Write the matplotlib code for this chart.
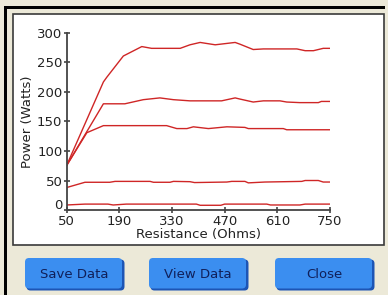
import matplotlib
matplotlib.use("Agg")
import matplotlib.pyplot as plt
import matplotlib.transforms as mtransforms
from matplotlib.patches import Rectangle, FancyBboxPatch

# readings of the five power curves (ohms -> watts)
r1 = [50, 148, 157, 201, 250, 276, 352, 378, 405, 445, 498, 511, 546, 573, 662, 684, 706, 732, 750]
p1 = [75, 217, 225, 261, 277, 274, 274, 280, 284, 280, 284, 281, 272, 273, 273, 270, 270, 274, 274]

r2 = [50, 148, 205, 254, 298, 334, 378, 462, 498, 511, 546, 573, 617, 635, 670, 719, 727, 750]
p2 = [75, 180, 180, 187, 190, 187, 185, 185, 190, 188, 183, 185, 185, 183, 182, 182, 184, 184]

r3 = [50, 104, 148, 316, 343, 370, 387, 427, 476, 524, 533, 626, 635, 750]
p3 = [75, 131, 143, 143, 138, 138, 141, 138, 141, 140, 138, 138, 136, 136]

r4 = [50, 99, 165, 179, 272, 281, 325, 334, 378, 390, 476, 489, 524, 533, 577, 675, 684, 719, 732, 750]
p4 = [38, 47, 47, 48.5, 48.5, 47, 47, 48.5, 48, 46.5, 47.4, 48.5, 48.5, 46, 47.4, 48.5, 50, 50, 47.4, 47.4]

r5 = [50, 99, 160, 174, 209, 395, 405, 460, 470, 582, 592, 670, 684, 750]
p5 = [8.5, 10, 10, 8.5, 10, 10, 8, 8, 10, 10, 8.5, 8.5, 10, 10]

xticks = [50, 190, 330, 470, 610, 750]
yticks = [0, 50, 100, 150, 200, 250, 300]
buttons = ["Save Data", "View Data", "Close"]

W, H = 388, 295
fig = plt.figure(figsize=(W / 100, H / 100), dpi=100)
fig.patch.set_facecolor("#ECE9D8")

# background: window border, white panel, buttons (pixel coords)
bg = fig.add_axes([0, 0, 1, 1])
bg.set_xlim(0, W)
bg.set_ylim(H, 0)
bg.axis("off")
bg.add_patch(Rectangle((4, 6), 381, 2.5, color="black", lw=0))
bg.add_patch(Rectangle((4, 6), 3, H, color="black", lw=0))
bg.add_patch(Rectangle((12.5, 13.5), 371, 231.5, facecolor="white",
                       edgecolor="#3a3a3a", lw=1.2))

bx = [25, 149, 275]
for x0, name in zip(bx, buttons):
    bg.add_patch(FancyBboxPatch((x0 + 1.5, 259.5), 98, 31, boxstyle="round,pad=0,rounding_size=4",
                                facecolor="#1d55b5", edgecolor="none"))
    bg.add_patch(FancyBboxPatch((x0, 258), 97, 30.5, boxstyle="round,pad=0,rounding_size=4",
                                facecolor="#3b8ef0", edgecolor="none"))
    bg.text(x0 + 49, 274, name, ha="center", va="center", fontsize=9.5,
            color="#10205a", family="DejaVu Sans")

ax = fig.add_axes([66.5 / W, 1 - 210 / H, (330 - 66.5) / W, (210 - 33) / H])
ax.set_facecolor("none")
for r, p in [(r1, p1), (r2, p2), (r3, p3), (r4, p4), (r5, p5)]:
    ax.plot(r, p, color="#cf2626", lw=1.0)

ax.set_xlim(50, 750)
ax.set_ylim(0, 300)
ax.set_xticks(xticks)
ax.set_yticks(yticks)
ax.spines["top"].set_visible(False)
ax.spines["right"].set_visible(False)
for s in ["left", "bottom"]:
    ax.spines[s].set_color("#444444")
    ax.spines[s].set_linewidth(1.3)
ax.tick_params(direction="inout", length=5, width=1.2, color="#444444",
               labelsize=9.5, labelcolor="#222222")
ax.tick_params(axis="x", pad=1)
ax.tick_params(axis="y", pad=0.5)
ax.set_xlabel("Resistance (Ohms)", fontsize=9.5, color="#222222", labelpad=0)
ax.set_ylabel("Power (Watts)", fontsize=9.5, color="#222222", labelpad=2)

# lift the "0" label a little so it clears the "50" below it
zero = ax.get_yticklabels()[0]
zero.set_transform(zero.get_transform() + mtransforms.ScaledTranslation(0, 4 / 72, fig.dpi_scale_trans))

fig.savefig("out.png", dpi=100, facecolor=fig.get_facecolor())
